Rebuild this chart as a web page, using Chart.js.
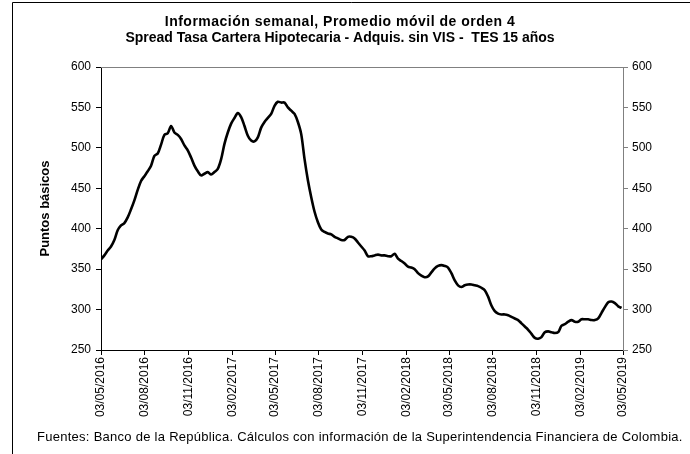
<!DOCTYPE html>
<html>
<head>
<meta charset="utf-8">
<script src="https://cdn.jsdelivr.net/npm/chart.js@4"></script>
<style>
  html, body { margin: 0; padding: 0; background: #fff; }
  #wrap { position: relative; width: 690px; height: 454px; }
</style>
</head>
<body>
<div id="wrap"><canvas id="chart" width="690" height="454"></canvas></div>
<script>
// weekly series, starting 03/05/2016
const startDate = '03/05/2016';
const spreadValues = [
  362, 367, 373, 378, 386, 398, 404, 407, 414, 424,
  435, 448, 459, 465, 471, 478, 490, 493, 504, 516,
  518, 527, 519, 516, 511, 503, 497, 488, 478, 471,
  466, 468, 470, 467, 470, 474, 486, 505, 519, 530,
  537, 543, 538, 527, 515, 509, 508, 513, 525, 532,
  537, 542, 552, 557, 556, 556, 550, 546, 542, 532,
  517, 486, 460, 439, 421, 408, 399, 396, 394, 393,
  390, 388, 386, 386, 390, 390, 388, 383, 378, 373,
  366, 366, 367, 368, 367, 367, 366, 366, 369, 363,
  360, 357, 353, 352, 350, 345, 342, 340, 341, 346,
  351, 354, 355, 354, 352, 345, 336, 330, 328, 330,
  331, 331, 330, 329, 327, 324, 316, 305, 298, 295,
  294, 294, 293, 291, 289, 287, 283, 279, 275, 270,
  265, 264, 266, 272, 273, 272, 271, 272, 280, 282,
  285, 287, 285, 285, 288, 288, 288, 287, 287, 289,
  296, 303, 309, 310, 308, 304, 302
];
const tickLabels = [
  '03/05/2016', '03/08/2016', '03/11/2016', '03/02/2017', '03/05/2017',
  '03/08/2017', '03/11/2017', '03/02/2018', '03/05/2018', '03/08/2018',
  '03/11/2018', '03/02/2019', '03/05/2019'
];
const yTicks = [250, 300, 350, 400, 450, 500, 550, 600];

const titleLines = [
  'Información semanal, Promedio móvil de orden 4',
  'Spread Tasa Cartera Hipotecaria - Adquis. sin VIS -  TES 15 años'
];
const yTitle = 'Puntos básicos';
const footnote = 'Fuentes: Banco de la República. Cálculos con información de la Superintendencia Financiera de Colombia.';

function dayOffset(label) {
  let p = label.split('/');
  let s = startDate.split('/');
  let a = Date.UTC(+p[2], +p[1] - 1, +p[0]);
  let b = Date.UTC(+s[2], +s[1] - 1, +s[0]);
  return Math.round((a - b) / 86400000);
}

const tickDays = tickLabels.map(dayOffset);
const points = spreadValues.map((v, i) => ({ x: i * 7, y: v }));

const FONT = "'Liberation Sans', Arial, sans-serif";

const textPlugin = {
  id: 'texts',
  afterDraw(chart) {
    let ctx = chart.ctx;
    let a = chart.chartArea;
    ctx.save();
    // outer frame
    ctx.strokeStyle = '#000';
    ctx.lineWidth = 1;
    ctx.beginPath();
    ctx.moveTo(12.5, 460);
    ctx.lineTo(12.5, 2.5);
    ctx.lineTo(700, 2.5);
    ctx.stroke();
    // top of plot area
    ctx.strokeStyle = '#808080';
    ctx.beginPath();
    ctx.moveTo(a.left, a.top + 0.5);
    ctx.lineTo(a.right, a.top + 0.5);
    ctx.stroke();

    ctx.fillStyle = '#000';
    ctx.textAlign = 'center';
    ctx.textBaseline = 'alphabetic';
    ctx.font = 'bold 14px ' + FONT;
    ctx.letterSpacing = '0.5px';
    ctx.fillText(titleLines[0], 340, 26);
    ctx.letterSpacing = '0px';
    ctx.fillText(titleLines[1], 340, 42);

    ctx.save();
    ctx.translate(49, (a.top + a.bottom) / 2);
    ctx.rotate(-Math.PI / 2);
    ctx.font = 'bold 13px ' + FONT;
    ctx.fillText(yTitle, 0, 0);
    ctx.restore();

    ctx.textAlign = 'left';
    ctx.font = '13px ' + FONT;
    ctx.letterSpacing = '0.27px';
    ctx.fillText(footnote, 37, 441);
    ctx.restore();
  }
};

const ctx = document.getElementById('chart').getContext('2d');
const chart = new Chart(ctx, {
  type: 'line',
  data: {
    datasets: [{
      data: points,
      borderColor: '#000',
      borderWidth: 2.6,
      pointRadius: 0,
      tension: 0.3,
      fill: false
    }]
  },
  options: {
    responsive: false,
    animation: false,
    layout: { padding: { top: 67, left: 0, right: 0, bottom: 0 } },
    plugins: {
      legend: { display: false },
      tooltip: { enabled: false }
    },
    scales: {
      x: {
        type: 'linear',
        min: 0,
        max: tickDays[tickDays.length - 1],
        afterBuildTicks: (scale) => {
          scale.ticks = tickDays.map(d => ({ value: d }));
        },
        afterFit: (scale) => { scale.height = 104; },
        ticks: {
          autoSkip: false,
          minRotation: 90,
          maxRotation: 90,
          padding: 2,
          color: '#000',
          font: { family: FONT, size: 12 },
          callback: (v) => tickLabels[tickDays.indexOf(v)]
        },
        grid: { drawOnChartArea: false, drawTicks: true, tickLength: 5, color: '#000' },
        border: { color: '#000', width: 1 }
      },
      y: {
        position: 'left',
        min: 250,
        max: 600,
        afterBuildTicks: (scale) => {
          scale.ticks = yTicks.map(v => ({ value: v }));
        },
        afterFit: (scale) => { scale.width = 101; },
        ticks: { padding: 5, color: '#000', font: { family: FONT, size: 12 } },
        grid: { drawOnChartArea: false, drawTicks: true, tickLength: 5, color: '#000' },
        border: { color: '#000', width: 1 }
      },
      y2: {
        position: 'right',
        min: 250,
        max: 600,
        afterBuildTicks: (scale) => {
          scale.ticks = yTicks.map(v => ({ value: v }));
        },
        afterFit: (scale) => { scale.width = 67; },
        ticks: { padding: 4, color: '#000', font: { family: FONT, size: 12 } },
        grid: { drawOnChartArea: false, drawTicks: true, tickLength: 5, color: '#808080' },
        border: { color: '#808080', width: 1 }
      }
    }
  },
  plugins: [textPlugin]
});
</script>
</body>
</html>
